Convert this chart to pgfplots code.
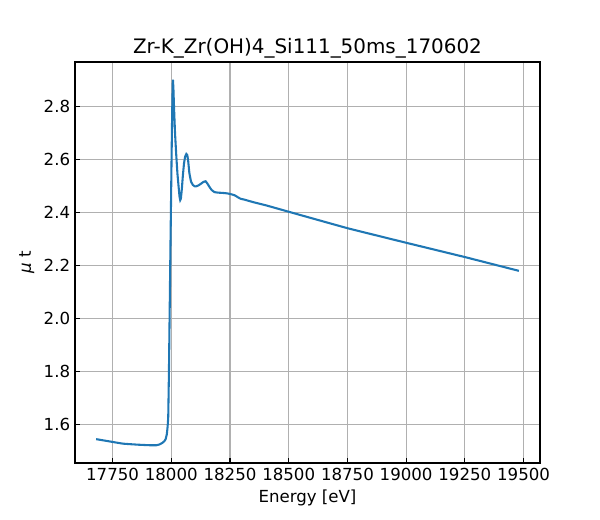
\documentclass[border=0pt]{standalone}
\usepackage{fontspec}
\setmainfont{DejaVu Sans}
\usepackage{pgfplots}
\pgfplotsset{compat=1.18}
\definecolor{mplblue}{HTML}{1F77B4}
\definecolor{mplgrid}{HTML}{B0B0B0}
\begin{document}
\begin{tikzpicture}
\path[use as bounding box] (0,0) rectangle (6in,5.2in);
\begin{axis}[
  at={(0.75in,0.57in)}, anchor=south west,
  scale only axis, width=4.65in, height=4.01in,
  xmin=17590, xmax=19570, ymin=1.456, ymax=2.969,
  xtick={17750,18000,18250,18500,18750,19000,19250,19500},
  ytick={1.6,1.8,2.0,2.2,2.4,2.6,2.8},
  scaled x ticks=false, scaled y ticks=false,
  xtick pos=bottom, ytick pos=left, tick align=inside,
  major tick length=3.5pt,
  every tick/.style={black, line width=0.8pt},
  axis line style={line width=0.8pt},
  grid=major, grid style={mplgrid, line width=0.8pt},
  /pgf/number format/assume math mode=true,
  xticklabel style={/pgf/number format/fixed, /pgf/number format/set thousands separator={}, /pgf/number format/precision=0},
  yticklabel style={/pgf/number format/fixed, /pgf/number format/fixed zerofill, /pgf/number format/precision=1},
  ticklabel style={font=\fontsize{12}{14}\selectfont},
  xlabel={Energy [eV]}, ylabel={{\itshape μ} t},
  label style={font=\fontsize{12}{14}\selectfont},
  title={Zr-K\_Zr(OH)4\_Si111\_50ms\_170602},
  title style={font=\fontsize{14.4}{17}\selectfont, yshift=-6.5pt},
]
\addplot[mplblue, line width=1.5pt, smooth, tension=0.15] coordinates {
(17680,1.546) (17740,1.537) (17794,1.529) (17860,1.525) (17910,1.523) (17936,1.523)
(17950,1.526) (17962,1.532) (17970,1.538) (17976,1.546) (17981,1.565) (17984,1.59) (17987,1.63)
(17990,1.80) (17993,2.02) (17996,2.24) (17999,2.45) (18002,2.66) (18004,2.79) (18006,2.88) (18007,2.902)
(18009,2.87) (18012,2.79) (18016,2.70) (18021,2.62) (18026,2.55) (18031,2.50) (18035,2.462) (18038,2.448)
(18041,2.455) (18045,2.49) (18049,2.537) (18054,2.585) (18059,2.612) (18064,2.622) (18068,2.618) (18072,2.595)
(18077,2.550) (18084,2.518) (18092,2.505) (18100,2.500) (18106,2.500) (18115,2.503) (18127,2.510) (18136,2.516)
(18146,2.519) (18154,2.510) (18163,2.497) (18172,2.486) (18184,2.478) (18200,2.476) (18220,2.475)
(18240,2.473) (18255,2.470) (18270,2.466) (18283,2.459) (18295,2.453) (18310,2.450) (18350,2.440)
(18404,2.428) (18500,2.404) (18750,2.342) (19000,2.287) (19250,2.233) (19480,2.181)
};
\end{axis}
\end{tikzpicture}
\end{document}
